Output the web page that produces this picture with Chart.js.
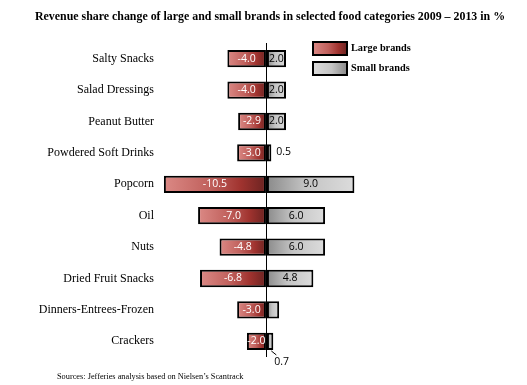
<!DOCTYPE html>
<html>
<head>
<meta charset="utf-8">
<script src="https://cdn.jsdelivr.net/npm/chart.js@4/dist/chart.umd.min.js"></script>
<style>
html,body{margin:0;padding:0;background:#fff;}
#wrap{position:relative;width:527px;height:385px;}
</style>
</head>
<body>
<div id="wrap"><canvas id="c" width="527" height="385"></canvas></div>
<script>
const titleText = 'Revenue share change of large and small brands in selected food categories 2009 \u2013 2013 in %';
const sourceText = 'Sources: Jefferies analysis based on Nielsen\u2019s Scantrack';
const categories = ['Salty Snacks','Salad Dressings','Peanut Butter','Powdered Soft Drinks','Popcorn','Oil','Nuts','Dried Fruit Snacks','Dinners-Entrees-Frozen','Crackers'];
const largeBrands = [-4.0,-4.0,-2.9,-3.0,-10.5,-7.0,-4.8,-6.8,-3.0,-2.0];
const smallBrands = [2.0,2.0,2.0,0.5,9.0,6.0,6.0,4.8,1.3,0.7];
const largeLabels = ['-4.0','-4.0','-2.9','-3.0','-10.5','-7.0','-4.8','-6.8','-3.0','-2.0'];
const smallLabels = ['2.0','2.0','2.0','0.5','9.0','6.0','6.0','4.8','','0.7'];
const seriesNames = ['Large brands','Small brands'];

function largeGrad(g, xa, xb){
  const gr = g.createLinearGradient(xa,0,xb,0);
  gr.addColorStop(0,'#db8985');
  gr.addColorStop(0.45,'#c0605c');
  gr.addColorStop(0.75,'#a0332f');
  gr.addColorStop(1,'#6a2321');
  return gr;
}
function smallGrad(g, xa, xb){
  const gr = g.createLinearGradient(xa,0,xb,0);
  gr.addColorStop(0,'#8a8a8a');
  gr.addColorStop(0.45,'#c4c4c4');
  gr.addColorStop(1,'#dcdcdc');
  return gr;
}

const decor = {
  id:'decor',
  afterDatasetsDraw(chart){
    const g = chart.ctx;
    g.save();
    g.font = '10.5px "Open Sans"';
    g.textBaseline = 'middle';
    const mL = chart.getDatasetMeta(0), mS = chart.getDatasetMeta(1);
    mL.data.forEach((el,i)=>{
      const t = largeLabels[i]; if(!t) return;
      g.fillStyle = '#fff'; g.textAlign='center';
      g.fillText(t, (el.x+el.base)/2, el.y);
    });
    mS.data.forEach((el,i)=>{
      const t = smallLabels[i]; if(!t) return;
      g.fillStyle = '#000';
      if (smallBrands[i] >= 1) {
        g.textAlign='center';
        g.fillText(t, (el.x+el.base)/2, el.y);
      } else if (i === categories.length-1) {
        const bx = el.x - 2, by = el.y + el.height/2 + 1;
        g.strokeStyle='#000'; g.lineWidth=1;
        g.beginPath(); g.moveTo(bx,by); g.lineTo(bx+5,by+4); g.stroke();
        g.textAlign='left';
        g.fillText(t, bx+3, by+11);
      } else {
        g.textAlign='left';
        g.fillText(t, el.x+5, el.y-1);
      }
    });
    g.restore();
  },
  afterDraw(chart){
    const g = chart.ctx;
    g.save();
    g.fillStyle='#000';
    g.textBaseline='middle';
    g.textAlign='center';
    g.font='bold 11.9px "Liberation Serif"';
    g.fillText(titleText, 270, 17);
    g.textAlign='left';
    g.font='8.3px "Liberation Serif"';
    g.fillText(sourceText, 57, 377);
    const boxes = [[313,42],[313,62]];
    boxes.forEach((b,i)=>{
      const [x,y]=b, w=34, h=13;
      g.fillStyle = i===0 ? largeGrad(g,x,x+w) : smallGrad(g,x+w,x);
      g.fillRect(x,y,w,h);
      g.lineWidth=2; g.strokeStyle='#000';
      g.strokeRect(x,y,w,h);
      g.fillStyle='#000';
      g.font='bold 10.3px "Liberation Serif"';
      g.textAlign='left';
      g.fillText(seriesNames[i], x+38, y+h/2);
    });
    g.restore();
  }
};

new Chart(document.getElementById('c'), {
  type:'bar',
  data:{
    labels: categories,
    datasets:[
      { label: seriesNames[0], data: largeBrands,
        backgroundColor: (ctx)=>{
          const ch = ctx.chart; if(!ch.chartArea || ctx.raw===undefined) return '#b04a47';
          const xs = ch.scales.x;
          return largeGrad(ch.ctx, xs.getPixelForValue(ctx.raw), xs.getPixelForValue(0));
        },
        borderColor:'#000', borderWidth:2, borderSkipped:false },
      { label: seriesNames[1], data: smallBrands,
        backgroundColor: (ctx)=>{
          const ch = ctx.chart; if(!ch.chartArea || ctx.raw===undefined) return '#b0b0b0';
          const xs = ch.scales.x;
          return smallGrad(ch.ctx, xs.getPixelForValue(0), xs.getPixelForValue(ctx.raw));
        },
        borderColor:'#000', borderWidth:2, borderSkipped:false }
    ]
  },
  options:{
    indexAxis:'y',
    responsive:false,
    animation:false,
    devicePixelRatio:1,
    layout:{ padding:{ top:43, bottom:28, left:0, right:114 } },
    datasets:{ bar:{ categoryPercentage:1, barPercentage:0.55 } },
    plugins:{ legend:{display:false}, title:{display:false}, tooltip:{enabled:false} },
    scales:{
      x:{ stacked:true, min:-11, max:15,
        ticks:{ display:false, stepSize:1 },
        border:{ display:false },
        grid:{ drawTicks:false, lineWidth:1,
          color:(c)=> (c.tick && c.tick.value===0) ? '#000' : 'rgba(0,0,0,0)' },
        afterFit(s){ s.height = 0; }
      },
      y:{ stacked:true,
        grid:{ display:false, drawTicks:false, tickLength:0 }, border:{ display:false },
        ticks:{ color:'#000', padding:5, font:{ family:'"Liberation Serif"', size:12 } },
        afterFit(s){ s.width = 159; }
      }
    }
  },
  plugins:[decor]
});
</script>
</body>
</html>
